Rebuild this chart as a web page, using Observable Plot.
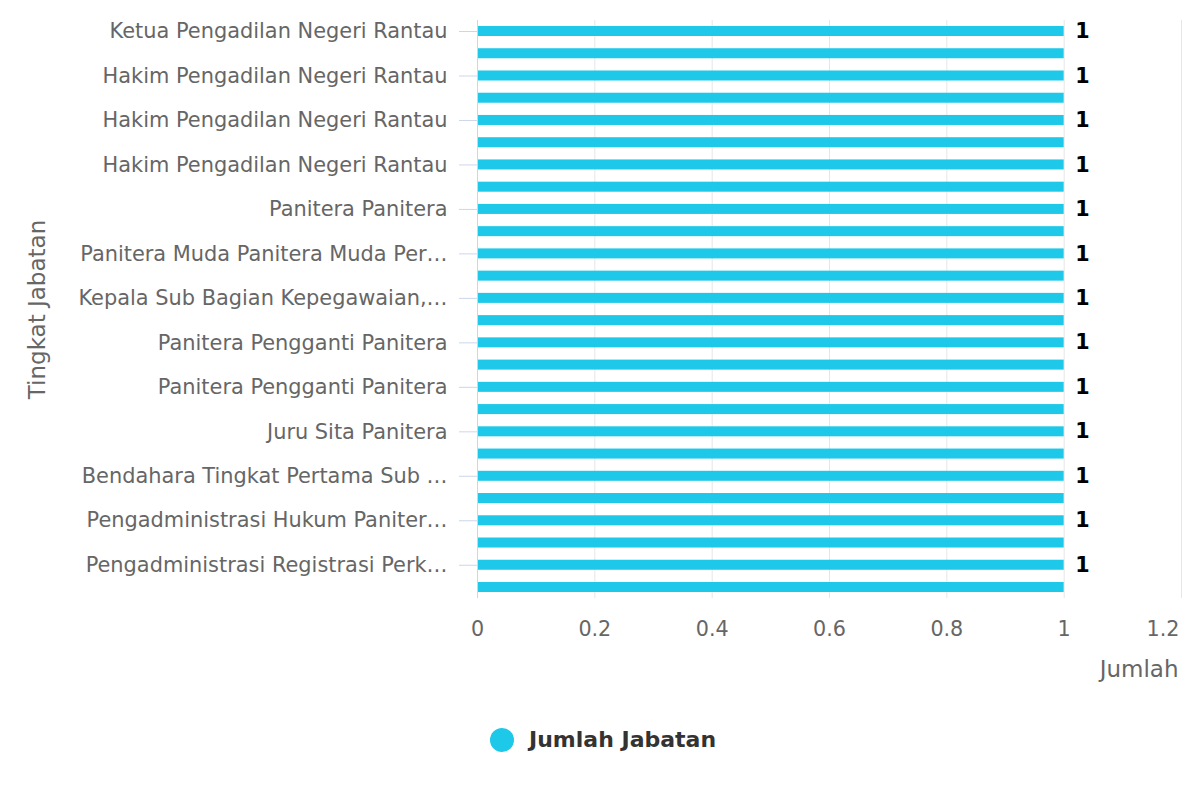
<!DOCTYPE html>
<html>
<head>
<meta charset="utf-8">
<script src="https://cdn.jsdelivr.net/npm/d3@7"></script>
<script src="https://cdn.jsdelivr.net/npm/@observablehq/plot@0.6"></script>
<style>
  body { margin: 0; background: #fff; font-family: "DejaVu Sans", sans-serif; }
  #wrap { position: relative; width: 1200px; height: 800px; }
  #legend { position: absolute; left: 490px; top: 727px; display: flex; align-items: center; font-size: 22px; font-weight: bold; color: #333; white-space: nowrap; }
  #legend .dot { width: 24px; height: 24px; border-radius: 50%; background: #1ec8e8; margin-right: 15px; }
</style>
</head>
<body>
<div id="wrap">
<div id="chart"></div>
<div id="legend"><span class="dot"></span><span>Jumlah Jabatan</span></div>
</div>
<script>
const categories = [
  "Ketua Pengadilan Negeri Rantau",
  "Wakil Ketua Pengadilan Negeri Rantau",
  "Hakim Pengadilan Negeri Rantau",
  "Hakim Pengadilan Negeri Rantau",
  "Hakim Pengadilan Negeri Rantau",
  "Hakim Pengadilan Negeri Rantau",
  "Hakim Pengadilan Negeri Rantau",
  "Hakim Pengadilan Negeri Rantau",
  "Panitera Panitera",
  "Sekretaris Sekretariat",
  "Panitera Muda Panitera Muda Per\u2026",
  "Panitera Muda Panitera Muda Pidana",
  "Kepala Sub Bagian Kepegawaian,\u2026",
  "Kepala Sub Bagian Umum dan Keuangan",
  "Panitera Pengganti Panitera",
  "Panitera Pengganti Panitera",
  "Panitera Pengganti Panitera",
  "Juru Sita Panitera",
  "Juru Sita Panitera",
  "Juru Sita Pengganti Panitera",
  "Bendahara Tingkat Pertama Sub \u2026",
  "Pengadministrasi Umum",
  "Pengadministrasi Hukum Paniter\u2026",
  "Pengolah Data",
  "Pengadministrasi Registrasi Perk\u2026",
  "Pramubakti"
];
const values = [1,1,1,1,1,1,1,1,1,1,1,1,1,1,1,1,1,1,1,1,1,1,1,1,1,1];
const xTicks = [0, 0.2, 0.4, 0.6, 0.8, 1, 1.2];
const xTitle = "Jumlah";
const yTitle = "Tingkat Jabatan";

const data = categories.map((c, i) => ({i, name: c, value: values[i]}));
const labeled = data.filter(d => d.i % 2 === 0);
const lastTick = xTicks[xTicks.length - 1];

const chart = Plot.plot({
  width: 1200,
  height: 700,
  marginTop: 20,
  marginBottom: 102,
  marginLeft: 477,
  marginRight: 19,
  style: {fontFamily: '"DejaVu Sans", sans-serif', fontSize: "20px", color: "#666", background: "#fff", overflow: "visible"},
  x: {domain: [0, lastTick]},
  y: {domain: d3.range(categories.length), padding: 0.55, paddingOuter: 0.27, round: false},
  marks: [
    Plot.gridX(xTicks.slice(1), {stroke: "#e6e6e6", strokeOpacity: 1}),
    Plot.axisX(xTicks.slice(0, -1), {tickSize: 0, tickPadding: 23, fontSize: 20.7, fill: "#666", tickFormat: d => String(d), label: null}),
    Plot.axisX([lastTick], {tickSize: 0, tickPadding: 23, fontSize: 20.7, fill: "#666", tickFormat: d => String(d), label: null, textAnchor: "end", dx: -2}),
    Plot.axisY(d3.range(0, categories.length, 2), {tickSize: 18, tickPadding: 12, stroke: "#ccd6eb", strokeOpacity: 1, fill: "#666", fontSize: 20.9,
      tickFormat: i => categories[i], label: null}),
    Plot.barX(data, {x: "value", y: "i", fill: "#1ec8e8"}),
    Plot.ruleX([0], {stroke: "#ccd6eb", strokeOpacity: 1}),
    Plot.text(labeled, {x: "value", y: "i", text: d => String(d.value), dx: 11, textAnchor: "start",
      fill: "#000", stroke: "#fff", strokeWidth: 3, paintOrder: "stroke", fontWeight: "bold", fontSize: 20.7}),
    Plot.text([xTitle], {frameAnchor: "bottom-right", dx: -3, dy: 78, textAnchor: "end", lineAnchor: "bottom", fontSize: 23, fill: "#666"}),
    Plot.text([yTitle], {frameAnchor: "left", dx: -433, rotate: -90, textAnchor: "middle", lineAnchor: "bottom", fontSize: 23, fill: "#666"})
  ]
});
document.getElementById("chart").appendChild(chart);
</script>
</body>
</html>
